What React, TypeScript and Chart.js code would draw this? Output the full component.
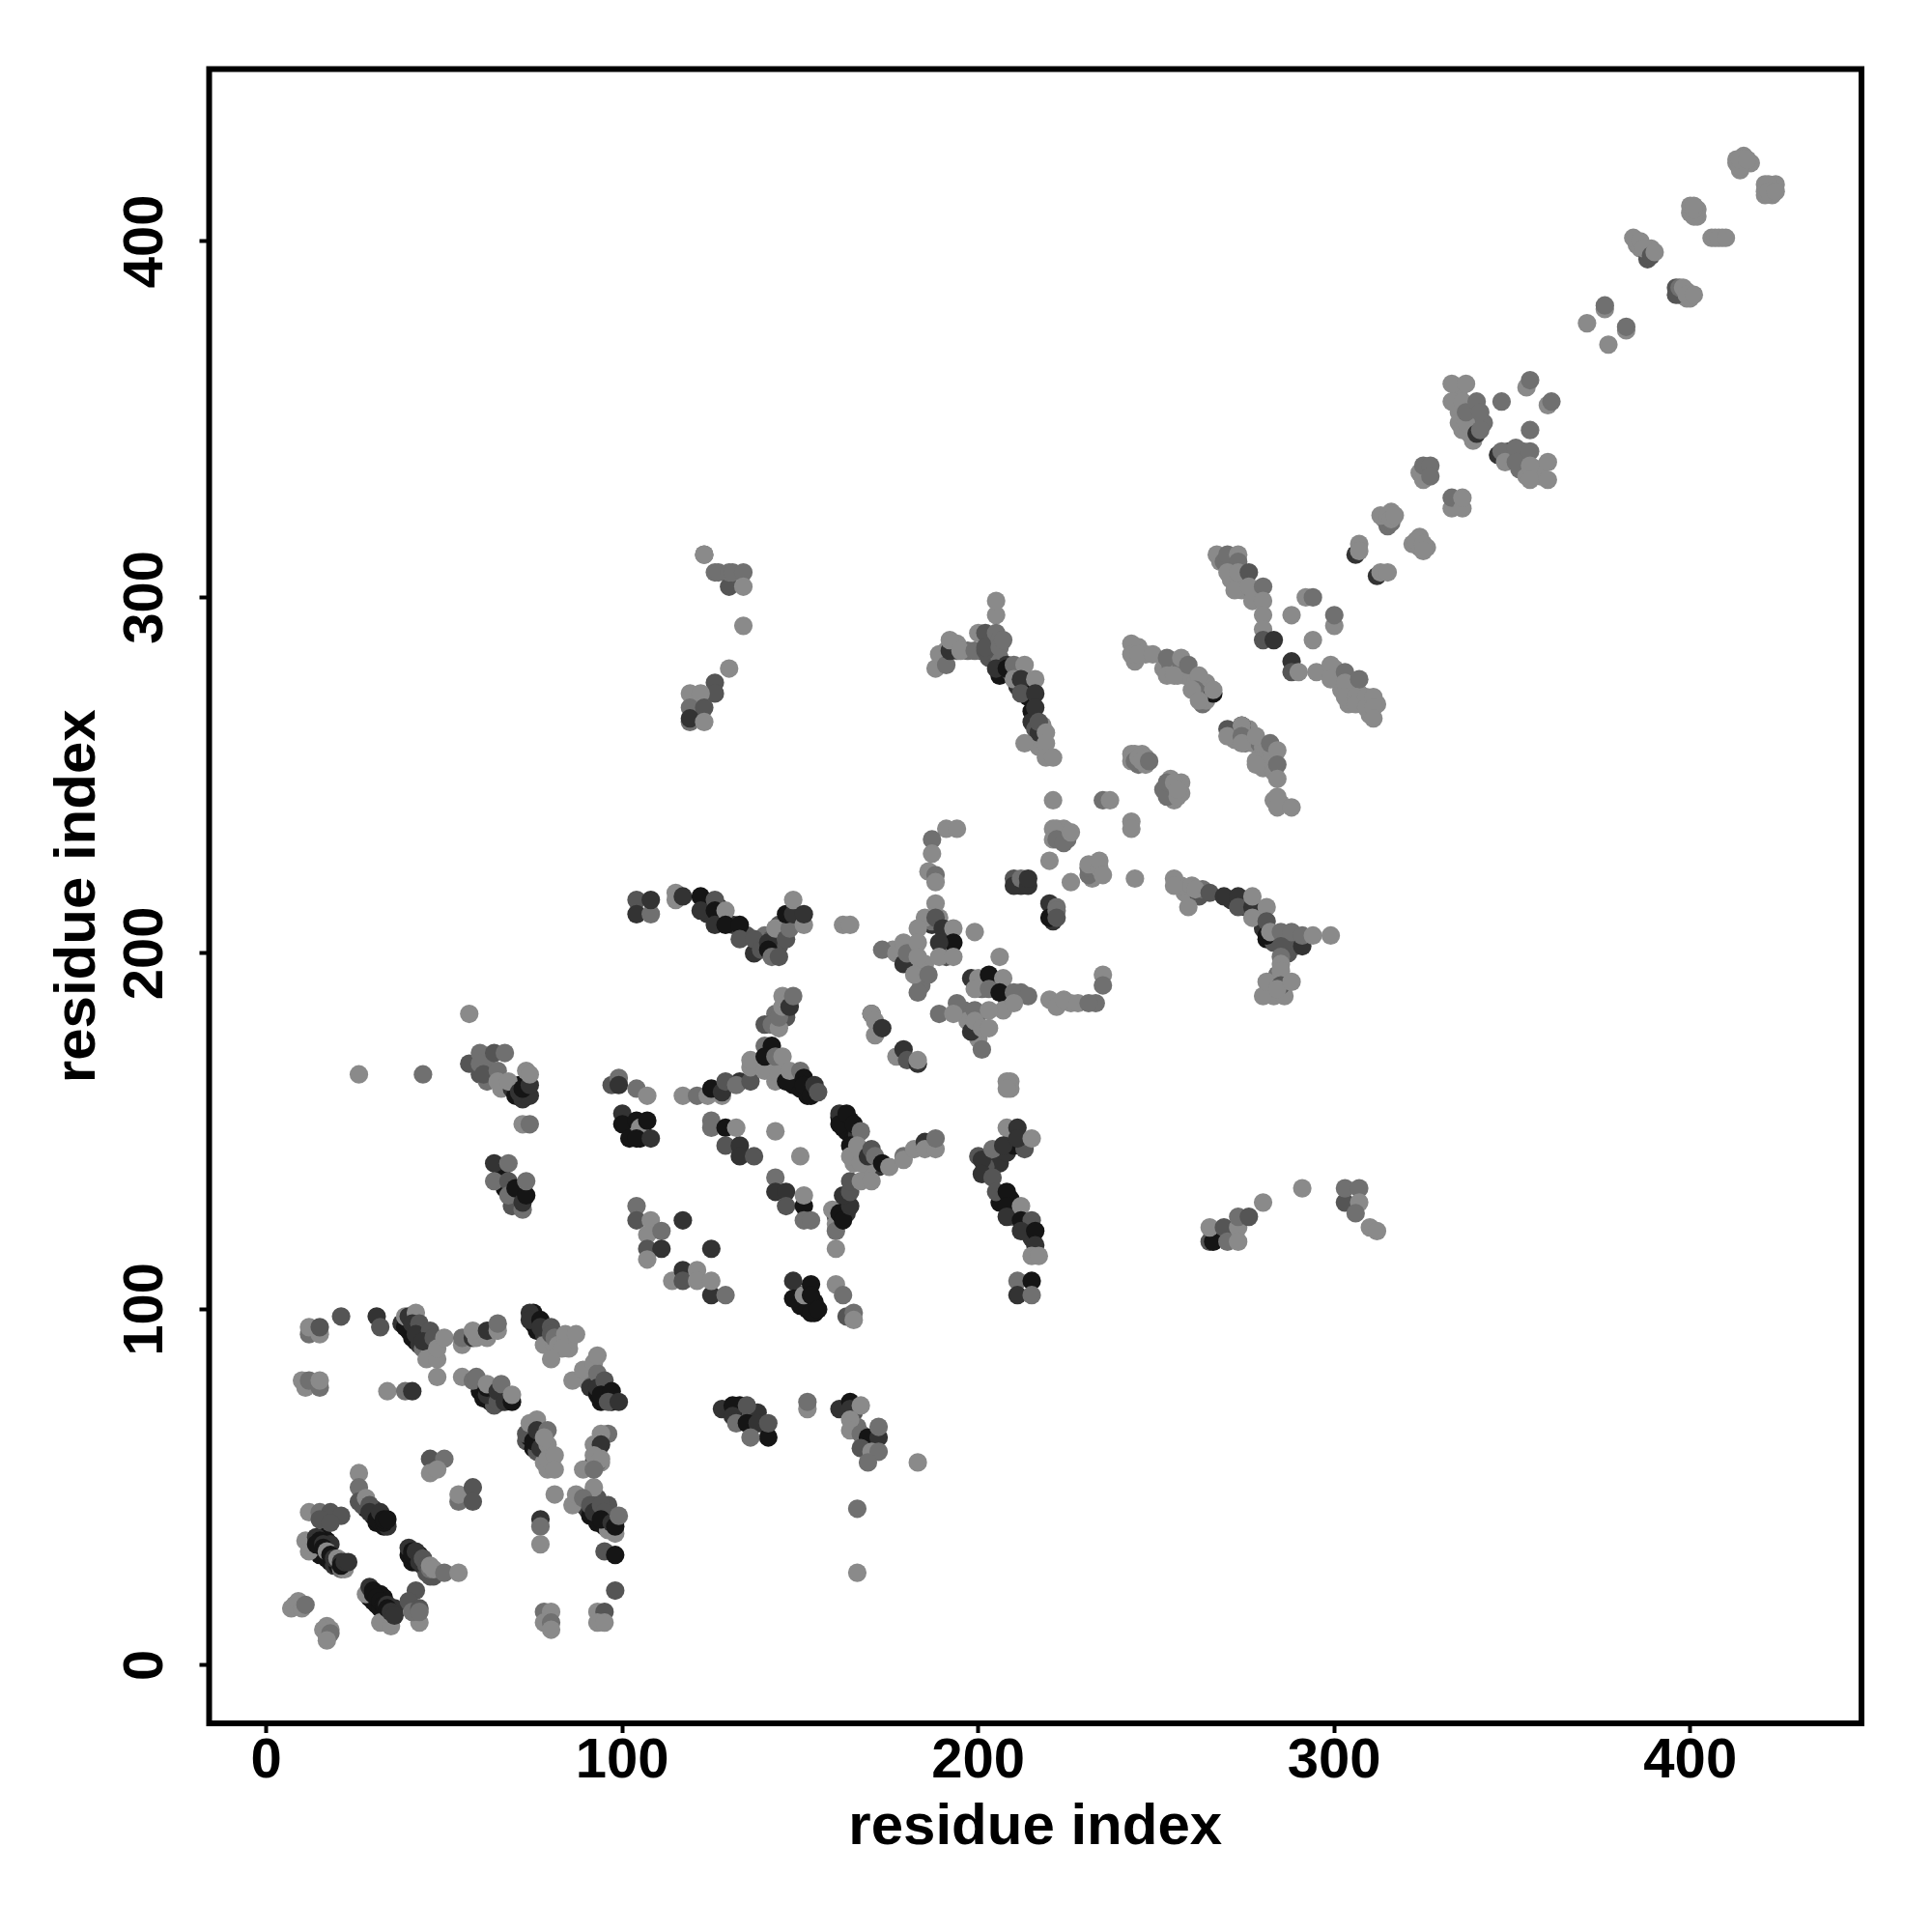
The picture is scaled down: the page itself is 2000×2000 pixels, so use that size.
import React, { useEffect, useRef } from "react";
import { Chart, registerables } from "chart.js";

Chart.register(...registerables);

type Contact = [number, number, number];

const tickValues = [0, 100, 200, 300, 400];
const axisTitle = "residue index";
const strengthGrays = ["#8a8a8a", "#707070", "#555555", "#333333", "#151515"];

const denseLower: Contact[] = [
  [14,33,5],[15,33,5],[15,31,5],[17,30,5],[18,29,5],[19,28,4],[20,28,5],[21,27,2],[22,27,1],[16,36,5],[17,35,5],[18,34,4],
  [29,19,5],[30,18,5],[31,17,5],[32,16,5],[33,15,5],[34,14,4],[31,20,5],[32,20,5],[33,19,5],[35,16,4],[36,16,4],
  [40,31,5],[41,29,5],[42,29,5],[43,31,5],[44,28,4],[45,26,3],[46,25,3],[42,30,5],
  [28,44,5],[30,42,5],[31,40,5],[32,40,5],[33,39,5],[30,44,4],[27,45,3],[34,39,4],
  [89,45,3],[90,44,4],[91,42,5],[93,40,5],[95,39,5],[96,38,1],[90,47,3],[93,47,3],[96,45,3],
  [75,99,5],[75,96,5],[76,94,5],[78,93,4],[79,92,3],[78,90,1],[81,90,1],[83,91,1],[85,91,1],[85,89,1],
  [90,80,1],[91,82,1],[92,80,2],[91,78,4],[93,76,5],[95,75,5],[97,74,5],[94,74,5],[96,76,4],
  [38,96,4],[39,95,5],[40,94,5],[41,92,5],[42,91,5],[43,90,4],[44,89,2],[46,90,1],[46,88,1],
  [60,77,5],[61,75,5],[63,74,5],[64,73,3],[66,74,4],[68,75,4],[66,76,5],
  [73,63,3],[74,64,5],[75,61,5],[76,60,3],[77,64,1],[78,57,1],[79,55,1],
  [94,57,1],[93,60,1],[93,57,2],
];

const denseMiddle: Contact[] = [
  [60,166,3],[62,169,2],[62,164,2],[66,162,1],[69,162,4],[70,160,5],[71,163,5],[72,159,4],[73,160,4],
  [66,138,5],[67,134,5],[69,131,5],[71,134,5],[71,130,5],[72,132,5],[69,129,3],
  [101,153,5],[102,151,5],[103,150,5],[105,148,5],[106,149,5],[104,150,1],
  [141,172,5],[141,170,5],[142,168,4],[144,168,1],[146,166,3],[148,166,5],[149,164,5],[150,162,5],[152,162,5],[152,160,5],[148,163,5],[145,165,4],
  [143,183,2],[146,187,3],[146,182,3],
  [161,154,5],[162,151,5],[163,150,5],[164,153,5],[165,148,5],[166,149,4],[166,144,3],[168,144,2],[170,141,5],[171,140,5],[172,140,4],[169,140,1],[165,141,1],
  [163,131,5],[162,128,5],[160,126,3],[163,127,4],
  [203,142,2],[205,143,3],[206,141,4],[202,140,3],[208,144,4],[209,147,3],[210,146,5],[213,145,3],
  [206,130,5],[209,131,5],[209,127,5],[210,126,2],[213,122,5],[214,124,4],[215,120,4],
  [150,104,5],[150,101,5],[151,101,5],[152,102,5],[154,102,5],[154,99,5],[152,100,5],
  [133,71,5],[133,73,5],[136,70,3],[137,70,4],[139,68,3],[138,71,4],
  [163,72,5],[165,71,3],[166,67,2],[168,62,2],[170,62,1],
  [124,214,5],[124,211,4],[127,213,5],[128,210,4],[131,208,4],[135,205,3],[140,205,2],[142,204,3],[144,202,3],[143,200,3],[144,208,3],[145,205,3],
];

const denseUpper: Contact[] = [
  [176,201,1],[178,200,2],[181,197,3],[182,197,1],[181,202,1],[185,197,1],[184,192,1],[184,191,2],[184,195,1],
  [187,208,4],[191,205,4],[191,203,4],[190,200,3],[191,199,3],[192,201,2],[187,209,2],
  [201,192,3],[201,190,2],[203,192,2],[205,191,4],[207,190,3],[208,187,2],[212,189,2],[196,184,2],[197,181,1],[200,183,2],[199,178,2],[200,176,1],
  [226,186,1],[233,186,2],
  [212,219,4],[213,220,3],[211,220,2],[221,212,4],[221,209,4],
  [223,234,1],[223,232,2],[225,232,2],[224,235,1],[222,235,1],
  [232,223,2],[233,222,1],[232,221,1],[233,225,1],
  [258,217,1],[257,219,1],[260,219,1],[262,216,3],[263,218,2],[271,215,4],[275,215,3],[275,213,4],[278,212,4],[279,211,3],[280,207,4],[281,204,5],[283,203,3],[286,203,3],[287,200,3],[289,204,3],[289,202,3],
  [285,193,1],[282,190,1],[283,188,1],[286,188,1],[283,192,2],[284,194,2],
  [267,121,4],[271,121,3],[269,120,2],
  [204,285,2],[203,288,3],[204,288,3],[201,285,3],[203,283,3],[206,283,2],[194,285,2],[197,285,2],
  [190,283,2],[191,285,1],[193,286,1],[190,282,1],[194,287,1],
  [206,278,5],[209,279,3],[211,275,4],[213,275,5],[214,272,5],[215,268,5],[215,265,4],[216,263,3],[218,264,1],[217,258,1],
  [247,284,1],[245,286,1],[244,282,1],[252,280,1],[254,281,2],[255,280,1],[256,278,1],[257,280,2],[258,278,1],[260,277,1],[261,276,1],[263,274,2],[264,276,1],[263,270,2],[262,273,2],[264,271,1],
  [243,256,1],[243,254,1],[245,253,2],[246,256,1],[247,255,1],[247,253,1],
  [252,246,2],[254,249,1],[254,245,1],[255,243,1],[255,246,1],[257,245,1],[257,248,1],
  [271,262,3],[272,260,1],[276,263,1],[275,259,2],[277,259,1],[279,259,2],[280,258,1],[281,256,1],[279,255,1],[280,252,1],[282,255,1],[283,251,1],[283,243,1],[285,242,1],
  [271,310,2],[268,310,1],[271,305,1],[274,305,1],[274,302,1],[277,302,2],[278,301,1],
  [300,280,1],[301,278,1],[302,274,1],[304,273,1],[305,275,1],[307,273,1],[308,271,1],[310,270,1],[312,270,1],[310,267,1],[304,270,1],
  [314,322,1],[316,324,1],[315,320,2],[316,321,2],
  [324,314,1],[324,317,1],[326,314,1],
  [326,335,2],[324,335,1],
  [334,355,1],[335,352,1],[335,349,1],[338,346,1],[339,350,2],[336,347,1],[339,344,1],[342,349,2],[335,358,1],
  [349,341,3],[350,339,3],[353,339,2],[353,341,2],[357,336,1],[358,334,1],[352,336,2],[354,334,1],
  [385,400,1],[385,399,1],[386,398,1],[388,397,2],[388,395,3],[389,398,1],
  [397,385,3],[398,385,3],[399,384,1],[396,387,3],[400,384,1],[399,386,1],
  [401,408,1],[400,408,1],[402,409,1],[400,410,1],[402,407,1],
  [409,401,1],[406,401,1],
  [413,422,1],[415,422,1],[415,424,1],[417,422,1],[413,423,1],[414,420,1],
  [423,415,1],[421,416,1],[423,413,1],[424,416,1],[421,413,1],
];

const nTerminalA: Contact[] = [
  [7,16,1],[8,17,1],[9,18,1],[10,16,1],[11,17,2],
  [17,11,1],[16,10,1],[18,10,1],[17,9,1],[17,8,1],[18,9,2],[17,7,1],
  [28,20,1],[32,12,1],[35,11,1],[29,22,4],[30,21,5],[30,20,5],[31,19,5],[32,18,5],[33,17,5],[34,17,4],[34,16,5],[35,15,4],[36,14,4],
  [43,12,1],[42,21,3],[40,18,3],[41,15,2],[43,16,3],[43,15,2],
  [12,43,1],[15,43,2],[18,43,3],[21,42,3],[15,41,3],[18,40,3],
  [11,35,1],[12,32,1],[14,36,4],[15,35,5],[14,34,5],[16,34,4],[16,33,5],[17,32,1],[18,31,5],[19,30,4],[20,30,1],[21,29,4],[21,28,5],[22,29,4],[23,29,4],
  [26,54,1],[26,50,2],[26,46,3],[28,47,1],[29,45,3],[29,43,4],[31,41,5],[32,43,4],[33,40,5],[33,41,5],[34,41,5],
  [40,33,4],[41,32,5],[41,31,5],[42,32,4],[43,29,4],[44,30,3],[45,28,3],[47,25,3],[46,27,2],[46,28,1],[47,27,1],[50,26,2],[54,26,1],
  [46,58,3],[50,58,2],[46,54,1],[48,55,1],
  [54,46,2],[54,48,1],[58,50,3],[58,46,3],
];

const nTerminalB: Contact[] = [
  [77,41,4],[77,39,2],[77,34,1],
  [78,15,2],[80,15,1],[78,12,1],[80,12,2],[80,10,1],
  [93,15,1],[95,15,3],[93,12,1],[95,12,1],
  [98,21,3],[95,32,3],[98,31,5],
  [86,45,1],[87,48,1],[92,50,1],[89,47,2],[91,45,3],[92,43,4],[94,45,3],[95,43,3],[94,41,5],[97,40,4],[98,37,1],[98,39,5],[99,42,2],
  [81,48,1],
  [73,65,3],[74,68,1],[76,69,1],[75,63,5],[76,66,4],[77,61,4],[79,66,2],[79,62,1],[78,64,1],[79,58,1],[81,59,1],[81,55,1],
  [96,65,2],[94,65,1],[92,62,1],[94,62,4],[92,57,4],[92,59,1],[94,58,1],[89,55,1],[92,55,2],
];

const arcNearHundred: Contact[] = [
  [74,99,4],[74,97,4],[77,97,5],[77,95,4],[80,95,3],[80,93,3],[81,92,2],[82,90,1],[84,93,1],[87,93,1],[83,89,1],[80,86,1],
  [86,80,1],[89,83,1],[92,85,1],[93,82,2],[93,87,1],[93,78,4],[95,80,3],[94,76,5],[97,77,5],[96,74,3],[99,74,4],
  [21,98,3],[31,98,4],[32,95,3],
  [12,93,2],[12,95,1],[15,93,1],[15,95,3],
  [39,98,1],[40,98,4],[42,99,1],[41,96,4],[43,96,3],[42,93,4],[46,94,3],[44,91,4],[47,92,3],[45,86,1],[48,86,1],[48,89,1],[50,92,1],
  [55,90,1],[55,92,2],[58,92,4],[59,92,1],[58,94,1],[62,92,1],[62,94,4],[65,94,1],[65,96,2],
  [10,80,1],[11,78,1],[12,80,2],[15,78,2],[15,80,1],
  [34,77,1],[39,77,2],[41,77,4],
  [48,81,1],[55,81,1],[58,80,2],[59,81,2],[62,76,4],[62,78,5],[62,79,1],[65,74,3],[65,77,4],[66,79,2],[67,74,4],[69,74,5],[69,76,1],
];

const midLeft: Contact[] = [
  [57,183,1],[26,166,1],[44,166,2],
  [57,169,3],[60,172,2],[60,169,2],[64,172,3],[67,172,2],[61,166,3],[65,167,2],[65,164,1],[68,164,1],
  [71,161,4],[74,160,4],[72,162,5],[74,163,4],[73,167,1],[74,166,1],
  [72,152,1],[74,152,2],
  [64,141,4],[64,136,2],[68,141,2],[68,136,3],[68,132,2],[70,134,5],[72,128,2],[72,130,4],[73,132,5],[73,136,2],
  [97,163,3],[99,165,2],[99,163,4],[104,162,2],[107,160,1],
  [100,155,4],[100,152,5],[102,148,5],[104,153,5],[105,151,1],[107,153,5],[104,148,5],[108,148,4],
  [104,129,2],[104,125,3],[108,125,1],[107,121,1],[111,122,2],[107,117,3],[111,117,4],[107,114,1],[117,125,4],[125,117,4],
  [114,108,1],[117,111,4],[117,108,3],[121,111,1],[121,108,1],[125,104,4],[125,108,1],[129,104,2],
];

const midCross: Contact[] = [
  [117,160,1],[121,160,2],[124,160,1],[128,160,1],[125,162,5],[128,161,4],[129,164,3],[133,164,4],[132,163,2],[136,164,3],[136,168,1],[136,170,1],
  [140,167,1],[140,174,2],[142,174,5],[140,171,5],[143,171,2],[145,171,1],[143,164,1],[144,166,1],[146,164,5],[147,167,1],
  [150,167,2],[151,165,5],[151,163,5],[153,160,5],[154,163,4],[155,161,3],
  [140,180,3],[142,180,2],[144,179,1],[144,182,2],[145,188,1],[145,185,1],[147,185,4],[148,188,2],
  [125,153,2],[125,151,2],[129,151,5],[132,151,1],[129,146,3],[133,146,4],[133,143,4],[137,143,3],[143,150,1],[150,143,1],
  [143,137,2],[143,133,4],[146,133,4],[146,129,3],[151,129,5],[151,132,1],[151,125,2],[153,125,2],
  [160,124,1],[160,122,2],[160,117,1],[159,128,1],[161,127,5],[162,125,5],[164,129,4],[162,132,4],[164,133,3],[164,136,3],[167,136,1],[170,136,1],
  [161,155,4],[161,152,5],[163,155,5],[165,152,5],[167,150,2],[164,146,5],[164,143,1],[166,146,1],[167,141,1],[169,143,4],[170,145,3],[171,143,2],[173,141,5],[175,140,1],
  [179,143,2],[179,142,1],[182,145,1],[185,147,4],[185,145,1],[188,145,1],[188,148,2],
];

const rightCross: Contact[] = [
  [200,143,3],[201,142,4],[204,145,2],[207,146,4],[208,151,1],[211,151,4],[211,148,4],[215,148,1],
  [201,138,4],[204,137,3],[205,133,3],[208,133,5],[208,129,5],[208,126,4],[212,129,1],[212,125,5],[215,125,3],[212,122,4],[216,122,5],[216,118,4],[215,115,1],[217,115,1],
  [211,108,2],[215,108,5],[211,104,4],[215,104,2],
  [209,164,1],[209,162,1],
  [148,108,4],[148,103,5],[151,104,1],[153,107,5],[153,104,5],[153,99,5],[155,100,5],
  [160,107,1],[162,104,2],[163,98,3],[165,99,2],[165,97,1],
  [128,72,4],[131,73,5],[131,70,4],[135,73,3],[132,68,2],[135,68,5],[138,68,4],[141,64,5],[136,64,2],[141,68,3],
  [152,72,1],[152,74,2],
  [161,72,4],[164,74,5],[164,72,4],[167,73,1],[164,69,1],[164,66,1],[167,65,2],[169,64,5],[172,64,4],[172,67,2],[167,61,3],[170,60,1],[172,60,2],[169,57,2],[183,57,1],
  [166,44,2],[166,26,1],
];

const hairpinRegion: Contact[] = [
  [104,215,3],[104,211,4],[108,211,2],[108,215,4],
  [115,217,1],[115,215,1],[117,216,4],
  [122,216,5],[122,212,4],[126,215,3],[126,212,5],[126,208,4],[129,212,1],[129,208,5],[133,208,5],[133,204,3],[137,200,4],[137,204,3],[139,201,3],[141,203,4],[141,201,5],[142,199,2],[144,199,3],[143,207,1],[146,204,3],[147,207,2],[146,211,5],[148,211,4],[148,215,1],[151,208,1],[151,211,4],
  [162,208,1],[164,208,1],
  [170,183,4],[170,183,1],[171,181,1],[171,177,1],[173,179,4],[177,171,1],[179,173,4],[180,170,3],[183,169,4],[183,170,1],
  [123,312,2],[123,312,1],[126,307,2],[127,307,2],[130,303,3],[130,307,2],[131,307,2],[134,307,2],[134,303,1],
  [134,292,1],[130,280,1],[126,276,3],[126,273,3],[119,273,1],[122,273,1],[119,269,2],[123,269,3],[119,265,2],[119,266,4],[123,265,1],
];

const centerBlock: Contact[] = [
  [191,235,1],[194,235,1],[187,232,2],[187,228,1],[186,223,1],[188,222,2],[188,220,1],
  [185,210,1],[188,214,1],[189,210,1],[188,210,3],[183,207,1],[190,207,4],[193,207,1],[193,203,5],[189,203,4],[189,199,1],[193,199,1],[199,206,1],
  [173,201,2],[177,200,1],[179,203,1],[179,197,4],[180,200,2],[183,203,1],[183,199,1],[182,194,1],[186,194,2],[183,189,2],
  [206,199,1],[198,193,4],[199,192,4],[200,193,1],[203,194,5],[207,193,1],[199,190,1],[203,190,2],[206,189,5],[210,189,2],[214,188,2],[207,184,1],[210,186,1],
  [189,183,2],[194,186,2],[193,183,1],[199,184,2],[198,178,4],[199,181,1],[203,184,1],[201,179,1],[203,179,1],[201,173,2],
  [220,187,1],[222,185,1],[224,187,1],[228,186,1],[231,186,2],[235,194,1],[235,191,2],
  [208,164,1],[208,162,1],
  [210,221,3],[210,219,4],[212,221,2],[214,219,4],[214,221,4],
  [220,214,4],[222,213,2],[220,210,5],[222,212,2],[222,210,3],
  [220,226,1],[226,220,1],[244,221,1],[221,243,1],[221,235,1],[221,232,1],[222,232,2],[224,231,2],[226,234,1],
  [231,222,2],[231,224,2],[231,225,1],[234,224,1],[234,226,1],[235,222,1],
  [243,237,1],[243,235,1],[235,243,2],[237,243,1],
];

const rightBands: Contact[] = [
  [255,221,1],[255,219,1],[259,213,1],[261,218,1],[265,217,3],[269,216,4],[273,216,4],[273,213,3],[277,213,4],[277,210,1],[277,216,1],[281,213,1],[281,209,3],[281,205,5],[282,206,1],
  [285,206,2],[288,206,2],[291,202,4],[291,205,2],[294,205,1],[299,205,1],[285,202,3],[285,199,2],[285,197,1],[285,195,1],[280,188,1],[281,192,1],[285,191,3],[284,190,1],[288,192,1],
  [265,119,3],[266,119,5],[265,123,1],[269,123,3],[270,119,2],[273,123,1],[273,119,1],[273,126,2],[276,126,3],[280,130,1],[291,134,1],
  [303,130,3],[303,134,2],[307,134,2],[307,130,1],[306,127,2],[310,123,1],[312,122,1],
  [188,280,1],[189,284,1],[191,281,2],[192,285,4],[192,288,1],[195,285,1],[199,285,2],[202,285,3],[200,290,1],[202,290,3],[202,286,3],[205,295,1],[205,299,1],[205,290,2],[206,288,2],[206,286,2],[207,288,2],
  [205,280,4],[208,281,4],[208,280,5],[210,281,2],[213,281,1],[210,277,1],[212,277,4],[216,277,1],[212,273,3],[216,273,4],[216,269,4],[217,262,4],[217,265,3],[219,262,1],[213,259,1],[219,259,1],[219,255,1],[221,255,1],
  [243,287,1],[243,284,1],[245,284,1],[249,284,1],[253,283,2],[257,283,1],[253,278,1],[255,278,1],[259,281,2],[262,278,1],[261,274,2],[260,274,1],[266,273,5],[266,274,1],[262,271,1],
  [244,256,1],[244,254,2],[245,255,1],[246,254,1],[248,254,2],
  [253,244,2],[253,248,2],[255,248,1],[256,244,1],[256,246,1],
  [270,263,3],[270,261,1],[274,264,4],[274,264,1],[274,261,2],[274,259,1],[278,261,1],[282,259,2],[284,257,1],[278,254,1],[278,253,1],[284,253,2],[284,249,1],[284,244,1],[284,241,1],[288,241,1],
];

const upperBands: Contact[] = [
  [267,312,1],[269,310,2],[270,312,2],[273,312,1],[273,310,2],[270,307,1],[273,307,1],[276,307,3],[272,302,1],[276,303,1],[280,303,2],[277,299,1],[280,299,1],[280,295,1],[280,291,1],[280,288,3],[283,288,4],
  [292,300,1],[294,300,2],[288,295,1],[300,292,1],[300,295,2],[294,288,1],
  [288,282,4],[288,279,3],[290,279,1],[295,279,1],[299,281,1],[299,277,1],[303,279,2],[303,276,1],[307,277,2],[303,272,1],[306,272,1],[306,270,1],[309,272,1],[309,269,1],[311,272,1],[311,269,1],[311,266,1],
  [306,312,4],[307,315,1],[307,313,1],[312,306,4],[313,307,1],[315,307,1],
  [313,323,1],[315,323,1],[316,322,1],[317,323,1],
  [322,315,1],[323,316,1],[325,315,1],[325,313,1],
  [325,333,1],[325,337,2],[327,337,2],[327,334,2],
  [333,325,1],[333,328,2],[336,325,1],[336,328,1],
  [333,360,1],[337,360,1],[333,355,1],[336,355,1],[337,349,1],[337,352,2],[340,355,2],[340,346,4],[341,352,2],[341,347,2],
  [347,355,2],[354,359,1],[355,361,2],[360,354,1],[361,355,2],[355,347,2],
  [346,340,4],[347,341,2],[348,338,1],[351,342,2],[351,338,2],[355,341,2],[355,337,1],[360,338,1],[355,333,1],[360,333,1],
];

const cTerminal: Contact[] = [
  [371,377,1],[376,381,1],[376,382,2],[382,375,1],[382,376,2],[377,371,1],
  [384,401,1],[386,400,1],[387,398,1],[389,396,3],[390,397,1],
  [396,385,3],[397,387,2],[398,387,1],[399,385,1],[401,385,1],
  [401,407,1],[401,409,1],[401,410,1],
  [407,401,1],[408,401,1],[410,401,1],
  [414,421,1],[414,423,1],[416,423,1],
  [421,414,1],[422,416,1],[422,414,1],[424,414,1],
];

const contacts: Contact[] = [
  ...denseLower, ...denseMiddle, ...denseUpper,
  ...nTerminalA, ...nTerminalB, ...arcNearHundred, ...midLeft, ...midCross, ...rightCross,
  ...hairpinRegion, ...centerBlock, ...rightBands, ...upperBands, ...cTerminal,
];

const TICK_FONT = { family: "'Liberation Sans', Arial, sans-serif", weight: "bold" as const, size: 58 };
const TITLE_FONT = { family: "'Liberation Sans', Arial, sans-serif", weight: "bold" as const, size: 60 };

const frame = {
  id: "frame",
  afterDatasetsDraw(chart: Chart) {
    const { ctx, chartArea: a } = chart;
    ctx.save();
    ctx.strokeStyle = "#000";
    ctx.lineWidth = 6;
    ctx.strokeRect(a.left, a.top, a.right - a.left, a.bottom - a.top);
    ctx.restore();
  },
};

export default function App() {
  const ref = useRef<HTMLCanvasElement>(null);
  useEffect(() => {
    const chart = new Chart(ref.current!, {
      type: "scatter",
      data: {
        datasets: [
          {
            data: contacts.map(([x, y]) => ({ x, y })),
            pointBackgroundColor: contacts.map((c) => strengthGrays[c[2] - 1]),
            pointBorderWidth: 0,
            pointRadius: 9.6,
          },
        ],
      },
      options: {
        animation: false,
        responsive: false,
        layout: { padding: { left: 45, top: 71.5, right: 73, bottom: 72 } },
        plugins: { legend: { display: false }, tooltip: { enabled: false } },
        scales: {
          x: {
            type: "linear",
            min: -16.07,
            max: 448.1,
            afterFit(s: any) { s.height = 144; },
            afterBuildTicks(s: any) { s.ticks = tickValues.map((value) => ({ value })); },
            grid: { drawOnChartArea: false, drawTicks: true, tickLength: 10, tickWidth: 4, tickColor: "#000" },
            border: { display: false },
            ticks: { color: "#000", font: TICK_FONT, padding: -5, maxRotation: 0, minRotation: 0 },
            title: { display: true, text: axisTitle, color: "#000", font: TITLE_FONT, padding: { top: 0, bottom: 0 } },
          },
          y: {
            type: "linear",
            min: -16.3,
            max: 448.4,
            afterFit(s: any) { s.width = 171.5; },
            afterBuildTicks(s: any) { s.ticks = tickValues.map((value) => ({ value })); },
            grid: { drawOnChartArea: false, drawTicks: true, tickLength: 10, tickWidth: 4, tickColor: "#000" },
            border: { display: false },
            ticks: { color: "#000", font: TICK_FONT, padding: 6, maxRotation: 90, minRotation: 90, crossAlign: "center" },
            title: { display: true, text: axisTitle, color: "#000", font: TITLE_FONT, padding: { top: 0, bottom: 0 } },
          },
        },
      },
      plugins: [frame],
    } as any);
    return () => chart.destroy();
  }, []);
  return (
    <canvas
      ref={ref}
      width={2000}
      height={2000}
      style={{ position: "absolute", left: 0, top: 0, width: 2000, height: 2000, background: "#fff" }}
    />
  );
}
